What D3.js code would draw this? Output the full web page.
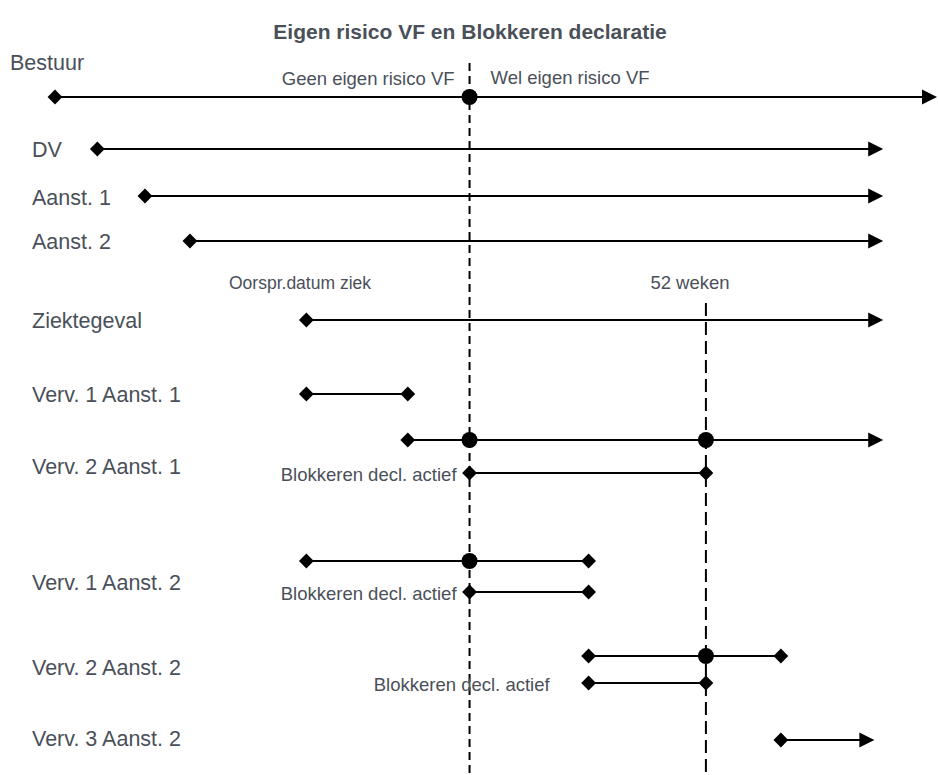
<!DOCTYPE html>
<html>
<head>
<meta charset="utf-8">
<script src="https://cdn.jsdelivr.net/npm/d3@7"></script>
<style>
body { margin: 0; background: #fff; }
text { font-family: "Liberation Sans", Arial, sans-serif; }
</style>
</head>
<body>
<svg id="chart"></svg>
<script>
// *** Data ***
var title = "Eigen risico VF en Blokkeren declaratie";
var rowLabels = ["Bestuur", "DV", "Aanst. 1", "Aanst. 2", "Ziektegeval", "Verv. 1 Aanst. 1", "Verv. 2 Aanst. 1", "Verv. 1 Aanst. 2", "Verv. 2 Aanst. 2", "Verv. 3 Aanst. 2"];
// timeline positions (0..100)
var segStart = [0, 4.8, 10.2, 15.3, 28.5, 28.5, 40, 47, 28.5, 47, 60.5, 60.5, 82.3];
var segEnd = [100, 93.9, 93.9, 93.9, 93.9, 40, 93.9, 73.8, 60.5, 60.5, 82.3, 73.8, 92.9];
var segEndType = ["arrow", "arrow", "arrow", "arrow", "arrow", "diamond", "arrow", "diamond", "diamond", "diamond", "diamond", "diamond", "arrow"];
var segCircles = [[47], [], [], [], [], [], [47, 73.8], [], [47], [], [73.8], [], []];
var blokLabel = "Blokkeren decl. actief";
var blokSegments = [7, 9, 11];
var eigenRisico = 47, weken52 = 73.8;
var annotations = ["Geen eigen risico VF", "Wel eigen risico VF", "Oorspr.datum ziek", "52 weken"];

// *** Layout ***
var width = 938, height = 775;
var segY = [97, 149, 196, 241, 320, 394, 440, 473, 561, 592, 656, 683, 740];
var labelY = [62, 149, 197, 241, 320, 394, 466, 582, 667, 738];
var labelX = [10, 32, 32, 32, 32, 32, 32, 32, 32, 32];
var blokGap = [13, 13, 39];
var textCol = "#4a5059";

var svg = d3.select("#chart").attr("width", width).attr("height", height);

var x = d3.scaleLinear().domain([0, 100]).range([55, 937]);

// title
svg.append("text")
    .attr("x", 470).attr("y", 32)
    .attr("dy", "0.35em")
    .attr("text-anchor", "middle")
    .attr("font-size", 21).attr("font-weight", "bold")
    .attr("fill", textCol)
    .text(title);

// dashed vertical lines
svg.append("line")
    .attr("x1", x(eigenRisico)).attr("x2", x(eigenRisico))
    .attr("y1", 63).attr("y2", height)
    .attr("stroke", "#000").attr("stroke-width", 2)
    .attr("stroke-dasharray", "8,5");
svg.append("line")
    .attr("x1", x(weken52)).attr("x2", x(weken52))
    .attr("y1", 303).attr("y2", height)
    .attr("stroke", "#000").attr("stroke-width", 2)
    .attr("stroke-dasharray", "13,6");

// row labels
svg.selectAll("text.row")
    .data(rowLabels)
    .enter().append("text")
    .attr("class", "row")
    .attr("x", function (d, i) { return labelX[i]; })
    .attr("y", function (d, i) { return labelY[i]; })
    .attr("dy", "0.35em")
    .attr("font-size", 21.5)
    .attr("fill", textCol)
    .text(function (d) { return d; });

// segments
var diamond = d3.symbol().type(d3.symbolDiamond2).size(140);
var segs = svg.selectAll("g.seg")
    .data(segStart)
    .enter().append("g").attr("class", "seg");

segs.append("line")
    .attr("x1", function (d) { return x(d); })
    .attr("x2", function (d, i) { return segEndType[i] == "arrow" ? x(segEnd[i]) - 10 : x(segEnd[i]); })
    .attr("y1", function (d, i) { return segY[i]; })
    .attr("y2", function (d, i) { return segY[i]; })
    .attr("stroke", "#000").attr("stroke-width", 2);

segs.append("path")
    .attr("d", diamond)
    .attr("transform", function (d, i) { return "translate(" + x(d) + "," + segY[i] + ")"; });

segs.append("path")
    .attr("d", function (d, i) {
        if (segEndType[i] == "arrow") return "M0,0L-15,-7.5L-15,7.5Z";
        return diamond();
    })
    .attr("transform", function (d, i) { return "translate(" + x(segEnd[i]) + "," + segY[i] + ")"; });

segs.each(function (d, i) {
    d3.select(this).selectAll("circle")
        .data(segCircles[i])
        .enter().append("circle")
        .attr("cx", function (c) { return x(c); })
        .attr("cy", segY[i])
        .attr("r", 8)
        .attr("fill", "#000");
});

// annotations
svg.append("text").attr("x", x(eigenRisico) - 15).attr("y", 79).attr("dy", "0.35em")
    .attr("text-anchor", "end").attr("font-size", 18.5).attr("fill", textCol).text(annotations[0]);
svg.append("text").attr("x", x(eigenRisico) + 21).attr("y", 78).attr("dy", "0.35em")
    .attr("font-size", 18.5).attr("fill", textCol).text(annotations[1]);
svg.append("text").attr("x", 229).attr("y", 283).attr("dy", "0.35em")
    .attr("font-size", 17.5).attr("fill", textCol).text(annotations[2]);
svg.append("text").attr("x", 690).attr("y", 283).attr("dy", "0.35em")
    .attr("text-anchor", "middle").attr("font-size", 18.5).attr("fill", textCol).text(annotations[3]);

svg.selectAll("text.blok")
    .data(blokSegments)
    .enter().append("text")
    .attr("class", "blok")
    .attr("x", function (s, i) { return x(segStart[s]) - blokGap[i]; })
    .attr("y", function (s) { return segY[s] + 2; })
    .attr("dy", "0.35em")
    .attr("text-anchor", "end")
    .attr("font-size", 18.5)
    .attr("fill", textCol)
    .text(blokLabel);
</script>
</body>
</html>
